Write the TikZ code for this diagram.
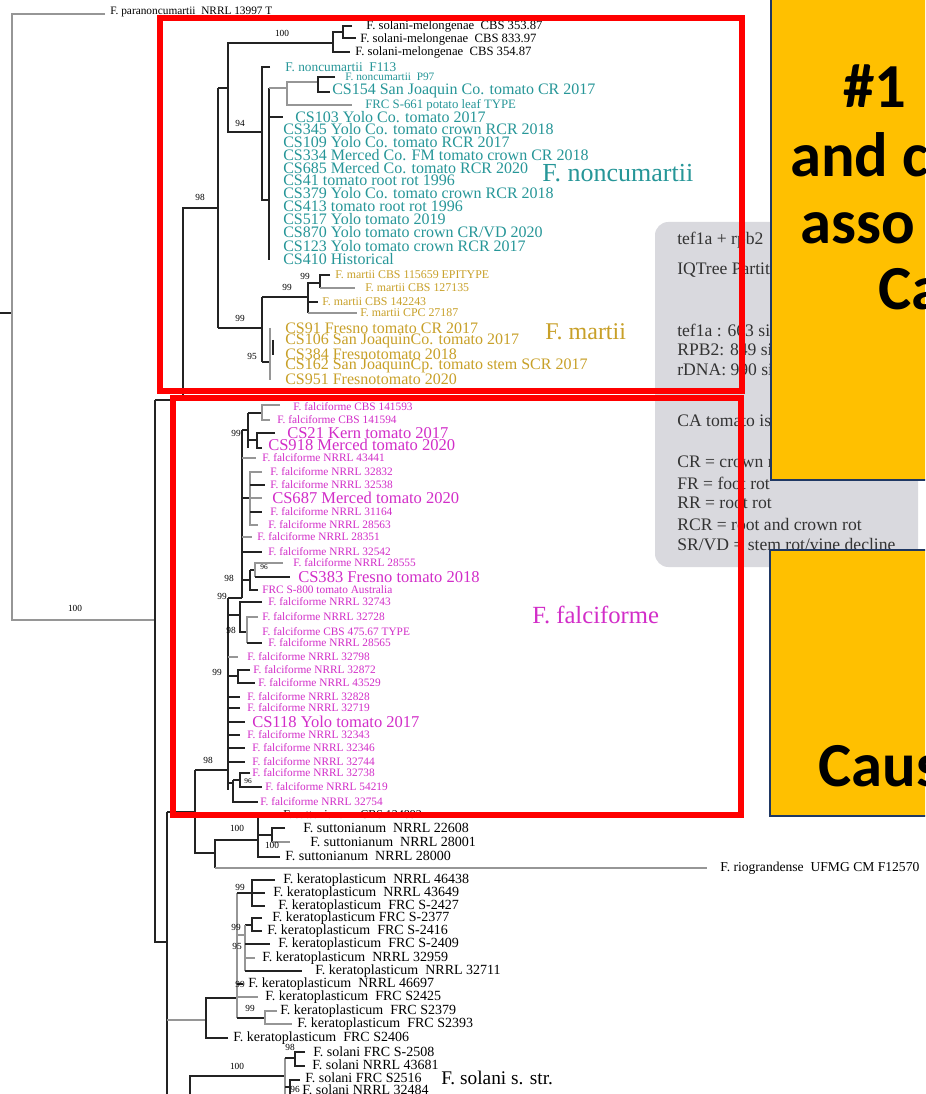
\documentclass[tikz,border=0pt]{standalone}
\usepackage{fontspec}
\setmainfont{Liberation Serif}
\newfontfamily\calib{Carlito}
\definecolor{ncteal}{RGB}{38,150,152}
\definecolor{mtgold}{RGB}{200,160,40}
\definecolor{fcmag}{RGB}{210,45,200}
\definecolor{boxgrey}{RGB}{217,217,222}
\definecolor{boxyellow}{RGB}{255,192,0}
\definecolor{boxnavy}{RGB}{31,56,100}
\definecolor{brgrey}{RGB}{150,150,150}
\definecolor{brdark}{RGB}{35,35,35}
\tikzset{
  br/.style={draw=brdark,line width=0.9pt},
  gbr/.style={draw=brgrey,line width=0.9pt},
  lab/.style={anchor=west,inner sep=0pt},
  small/.style={lab,font=\fontsize{8.5}{9}\selectfont},
  large/.style={lab,font=\fontsize{12}{12}\selectfont},
  blk/.style={lab,font=\fontsize{10.5}{11}\selectfont},
  boot/.style={inner sep=0pt,font=\fontsize{7}{7}\selectfont},
  tinyboot/.style={inner sep=0pt,font=\fontsize{5.5}{6}\selectfont},
  clade/.style={lab,font=\fontsize{18.5}{19}\selectfont},
  redbox/.style={draw=red,line width=5.2pt},
  ybox/.style={fill=boxyellow,draw=boxnavy,line width=1.5pt},
  ytext/.style={anchor=base west,inner sep=0pt,font=\calib\bfseries\fontsize{47}{47}\selectfont},
  note/.style={anchor=west,inner sep=0pt,text=black!80,font=\fontsize{13.2}{14}\selectfont}
}
\begin{document}
\begin{tikzpicture}[x=0.75pt,y=-0.75pt]
\useasboundingbox (0,0) rectangle (925,1094);
\clip (0,0) rectangle (925,1094);
\fill[white] (0,0) rectangle (925,1094);

\fill[boxgrey,rounded corners=10pt] (655,222) rectangle (918,567);
\foreach \y/\t [count=\i] in {240/{tef1a + rpb2}, 270/{IQTree Partition}, 330/{tef1a : 663 sites}, 350/{RPB2: 849 sites}, 370/{rDNA: 990 sites}, 420/{CA tomato isolates}, 462/{CR = crown rot}, 483/{FR = foot rot}, 503/{RR = root rot}, 524/{RCR = root and crown rot}, 545/{SR/VD = stem rot/vine decline}}
  \node[note] (note\i) at (677,\y) {\t};

\draw[br] (0,313) -- (12,313);
\draw[gbr] (105,14) -| (12,620) -- (155,620);
\node[boot] (b1) at (75,608) {100};
\node[small] (paranc) at (110,12) {F. paranoncumartii\ \ NRRL 13997 T};

\draw[br] (155,400) -| (183,208) -- (218,208);
\node[boot] (b2) at (200,197) {98};
\draw[br] (218,88) -- (218,328);
\draw[br] (218,88) -- (228,88);
\draw[br] (333,43) -| (228,132) -- (262,132);
\node[boot] (b3) at (282,33) {100};
\node[boot] (b4) at (240,123) {94};
\draw[br] (343,32) -| (333,52) -- (350,52);
\draw[br] (352,26) -| (343,38) -- (356,38);
\node[lab,font=\fontsize{9.5}{10}\selectfont] (sm1) at (366,26) {F. solani-melongenae\ \ CBS 353.87};
\node[lab,font=\fontsize{9.5}{10}\selectfont] (sm2) at (360,39) {F. solani-melongenae\ \ CBS 833.97};
\node[lab,font=\fontsize{9.5}{10}\selectfont] (sm3) at (355,52) {F. solani-melongenae\ \ CBS 354.87};

\draw[br] (270,67) -| (262,200) -- (269,200);
\draw[br] (269,88) -- (269,260);
\draw[gbr] (269,88) -- (287,88);
\draw[gbr] (318,82) -| (287,105) -- (352,105);
\draw[br] (335,77) -| (318,92) -- (330,92);
\draw[br] (269,117) -- (283,117);
\node[lab,text=ncteal,font=\fontsize{10}{10}\selectfont] (f113) at (285,67) {F. noncumartii\ \ F113};
\node[small,text=ncteal] (p97) at (345,77) {F. noncumartii\ \ P97};
\node[lab,text=ncteal,font=\fontsize{9.6}{10}\selectfont] (frc661) at (365,105) {FRC S-661 potato leaf TYPE};
\node[large,text=ncteal] (cs154) at (332,91) {CS154 San Joaquin Co. tomato CR 2017};
\node[large,text=ncteal] (cs103) at (295,117) {CS103 Yolo Co. tomato 2017};
\foreach \y/\t [count=\i] in {129/CS345 Yolo Co. tomato crown RCR 2018, 142/CS109 Yolo Co. tomato RCR 2017, 155/CS334 Merced Co. FM tomato crown CR 2018, 168/CS685 Merced Co. tomato RCR 2020, 180/CS41 tomato root rot 1996, 193/CS379 Yolo Co. tomato crown RCR 2018, 206/CS413 tomato root rot 1996, 219/CS517 Yolo tomato 2019, 232/{CS870 Yolo tomato crown CR/VD 2020}, 246/CS123 Yolo tomato crown RCR 2017, 259/CS410 Historical}
  \node[large,text=ncteal] (nc\i) at (283,\y) {\t};
\node[clade,text=ncteal,font=\fontsize{19.5}{20}\selectfont] (ncname) at (542,173) {F. noncumartii};

\draw[br] (218,328) -- (262,328);
\node[boot] (b5) at (240,318) {99};
\draw[br] (262,297) -- (262,362);
\draw[br] (262,297) -- (308,297);
\node[boot] (b6) at (287,287) {99};
\draw[br] (320,283) -| (308,313);
\draw[gbr] (308,313) -- (357,313);
\draw[br] (308,302) -- (318,302);
\node[boot] (b7) at (305,276) {99};
\draw[br] (330,275) -| (320,288);
\draw[gbr] (320,288) -- (355,288);
\draw[br] (262,362) -- (270,362);
\node[boot] (b8) at (252,356) {95};
\draw[gbr] (270,328) -- (270,380);
\draw[br,line width=1.5pt] (273,340) -- (273,355);
\foreach \x/\y/\t [count=\i] in {335/275/F. martii CBS 115659 EPITYPE, 365/288/F. martii CBS 127135, 322/302/F. martii CBS 142243, 360/313/F. martii CPC 27187}
  \node[lab,text=mtgold,font=\fontsize{8.9}{9}\selectfont] (mt\i) at (\x,\y) {\t};
\foreach \y/\t [count=\i] in {328/CS91 Fresno tomato CR 2017, 341/CS106 San JoaquinCo. tomato 2017, 354/CS384 Fresnotomato 2018, 366/CS162 San JoaquinCp. tomato stem SCR 2017, 379/CS951 Fresnotomato 2020}
  \node[large,text=mtgold] (mtcs\i) at (285,\y) {\t};
\node[clade,text=mtgold,font=\fontsize{18}{18}\selectfont] (mtname) at (545,332) {F. martii};

\draw[br] (195,770) -- (228,770);
\node[boot] (b9) at (208,760) {98};
\draw[br] (228,598) -- (228,790);
\draw[br] (228,598) -- (242,598);
\node[boot] (b10) at (222,596) {99};
\draw[br] (242,430) -- (242,598);
\draw[br] (242,430) -- (248,430);
\draw[br] (248,413) -- (248,448);
\node[boot] (b11) at (236,433) {99};
\draw[br] (248,413) -- (262,413);
\draw[gbr] (280,405) -| (262,420) -- (270,420);
\draw[br] (248,440) -- (257,440);
\draw[br] (275,433) -| (257,448) -- (262,448);
\draw[gbr] (242,458) -- (256,458);
\draw[br] (242,498) -- (250,498);
\draw[gbr] (262,472) -| (250,525) -- (258,525);
\draw[br] (250,485) -- (265,485);
\draw[gbr] (250,498) -- (262,498);
\draw[br] (250,512) -- (262,512);
\draw[gbr] (242,537) -- (252,537);
\draw[br] (242,552) -- (262,552);
\draw[br] (242,580) -- (250,580);
\node[boot] (b12) at (229,578) {98};
\draw[br] (250,570) -- (250,590) -- (258,590);
\draw[br] (250,570) -- (255,570);
\draw[gbr] (283,563) -| (255,577);
\draw[br,line width=1.4pt] (255,577) -- (290,577);
\node[tinyboot] (b13) at (264,567) {96};
\draw[br] (228,615) -- (240,615);
\draw[br] (262,602) -| (240,632) -- (247,632);
\draw[gbr] (258,617) -| (247,643);
\draw[br] (247,643) -- (262,643);
\node[boot] (b14) at (231,630) {98};
\draw[gbr] (228,657) -- (238,657);
\draw[br] (228,676) -- (238,676);
\draw[br] (250,670) -| (238,683) -- (255,683);
\node[boot] (b15) at (217,672) {99};
\foreach \y/\e in {697/240, 708/240, 722/245, 735/240, 748/245, 762/245}
  \draw[br] (228,\y) -- (\e,\y);
\draw[br] (228,783) -- (233,783);
\draw[br] (233,780) -- (240,780);
\draw[br] (250,773) -| (240,787) -- (262,787);
\draw[br] (233,780) -- (233,802) -- (258,802);
\node[tinyboot] (b16) at (248,781) {96};
\foreach \x/\y/\t [count=\i] in {293/407/F. falciforme CBS 141593, 277/420/F. falciforme CBS 141594, 262/458/F. falciforme NRRL 43441, 270/472/F. falciforme NRRL 32832, 270/485/F. falciforme NRRL 32538, 270/512/F. falciforme NRRL 31164, 268/525/F. falciforme NRRL 28563, 257/537/F. falciforme NRRL 28351, 268/552/F. falciforme NRRL 32542, 293/563/F. falciforme NRRL 28555, 262/590/FRC S-800 tomato Australia, 268/602/F. falciforme NRRL 32743, 262/617/F. falciforme NRRL 32728, 262/632/F. falciforme CBS 475.67 TYPE, 268/643/F. falciforme NRRL 28565, 247/657/F. falciforme NRRL 32798, 253/670/F. falciforme NRRL 32872, 258/683/F. falciforme NRRL 43529, 247/697/F. falciforme NRRL 32828, 247/708/F. falciforme NRRL 32719, 247/735/F. falciforme NRRL 32343, 252/748/F. falciforme NRRL 32346, 252/762/F. falciforme NRRL 32744, 252/773/F. falciforme NRRL 32738, 265/787/F. falciforme NRRL 54219, 260/802/F. falciforme NRRL 32754}
  \node[small,text=fcmag] (fc\i) at (\x,\y) {\t};
\foreach \x/\y/\t [count=\i] in {287/433/CS21 Kern tomato 2017, 268/445/CS918 Merced tomato 2020, 272/498/CS687 Merced tomato 2020, 298/577/CS383 Fresno tomato 2018, 252/722/CS118 Yolo tomato 2017}
  \node[lab,text=fcmag,font=\fontsize{12.4}{13}\selectfont] (fccs\i) at (\x,\y) {\t};
\node[clade,text=fcmag] (fcname) at (532,615) {F. falciforme};

\draw[br] (155,400) -- (155,942) -- (167,942);
\draw[br] (167,812) -- (167,1094);
\draw[br] (167,812) -- (195,812);
\draw[br] (195,770) -- (195,853) -- (215,853);
\draw[br] (258,840) -| (215,868);
\draw[gbr] (215,868) -- (707,868);
\draw[br] (270,815) -| (258,857) -- (280,857);
\draw[br] (258,835) -- (272,835);
\draw[br] (285,828) -| (272,842);
\draw[gbr] (272,842) -- (290,842);
\node[boot] (b17) at (237,828) {100};
\node[boot] (b18) at (272,845) {100};
\node[lab,font=\fontsize{9}{9}\selectfont] (su1) at (283,815) {F. suttonianum\ \ CBS 124892};
\node[blk] (su2) at (303,828) {F. suttonianum\ \ NRRL 22608};
\node[blk] (su3) at (310,842) {F. suttonianum\ \ NRRL 28001};
\node[blk] (su4) at (285,856) {F. suttonianum\ \ NRRL 28000};
\node[lab,font=\fontsize{10.2}{10}\selectfont] (rio) at (720,868) {F. riograndense\ \ UFMG CM F12570};

\draw[gbr] (167,1020) -- (206,1020);
\draw[br] (228,1038) -| (206,998) -- (237,998);
\draw[gbr] (237,893) -- (237,1018);
\draw[br] (237,893) -- (252,893);
\draw[br] (275,880) -| (252,906) -- (265,906);
\draw[br] (252,893) -- (265,893);
\draw[br] (262,918) -| (252,931) -- (262,931);
\draw[br] (245,925) -- (252,925);
\draw[gbr] (237,935) -- (245,935);
\draw[gbr] (245,925) -- (245,971);
\draw[br] (245,944) -- (270,944);
\draw[gbr] (245,958) -- (255,958);
\draw[br] (245,971) -- (302,971);
\draw[br] (237,984) -- (243,984);
\draw[gbr] (237,997) -- (258,997);
\draw[br] (237,1018) -- (265,1018);
\draw[gbr] (277,1011) -| (265,1024) -- (292,1024);
\node[boot] (b19) at (240,887) {99};
\node[boot] (b20) at (236,927) {99};
\node[boot] (b21) at (237,946) {95};
\node[boot] (b22) at (240,984) {99};
\node[boot] (b23) at (250,1008) {99};
\foreach \x/\y/\t [count=\i] in {283/880/F. keratoplasticum\ \ NRRL 46438, 273/893/F. keratoplasticum\ \ NRRL 43649, 278/906/F. keratoplasticum\ \ FRC S-2427, 272/918/F. keratoplasticum FRC S-2377, 267/931/F. keratoplasticum\ \ FRC S-2416, 278/944/F. keratoplasticum\ \ FRC S-2409, 262/958/F. keratoplasticum\ \ NRRL 32959, 315/971/F. keratoplasticum\ \ NRRL 32711, 248/984/F. keratoplasticum\ \ NRRL 46697, 265/997/F. keratoplasticum\ \ FRC S2425, 280/1011/F. keratoplasticum\ \ FRC S2379, 297/1024/F. keratoplasticum\ \ FRC S2393, 233/1038/F. keratoplasticum\ \ FRC S2406}
  \node[blk] (ke\i) at (\x,\y) {\t};

\draw[br] (190,1094) -- (190,1076) -- (285,1076);
\draw[gbr] (285,1058) -- (285,1094);
\draw[br] (285,1058) -- (295,1058);
\draw[br] (305,1052) -| (295,1066) -- (305,1066);
\draw[br] (285,1087) -- (290,1087);
\draw[br] (300,1080) -| (290,1094);
\node[boot] (b24) at (290,1047) {98};
\node[boot] (b25) at (237,1066) {100};
\node[boot] (b26) at (295,1089) {96};
\foreach \x/\y/\t [count=\i] in {313/1052/F. solani FRC S-2508, 312/1065/F. solani NRRL 43681, 305/1078/F. solani FRC S2516, 302/1090/F. solani NRRL 32484}
  \node[blk] (so\i) at (\x,\y) {\t};
\node[lab,font=\fontsize{14.5}{15}\selectfont] (soname) at (441,1078) {F. solani s. str.};

\draw[redbox] (160,18) rectangle (742,391);
\draw[redbox] (173,398) rectangle (741,815);

\draw[ybox] (771,-10) rectangle (940,480);
\draw[ybox] (770,550) rectangle (940,816);
\node[ytext] (y1) at (843,108) {\#1};
\node[ytext] (y2) at (790,177) {and c};
\node[ytext] (y3) at (800,244) {asso};
\node[ytext] (y4) at (878,310) {Ca};
\node[ytext] (y5) at (818,786) {Caus};
\end{tikzpicture}
\end{document}
